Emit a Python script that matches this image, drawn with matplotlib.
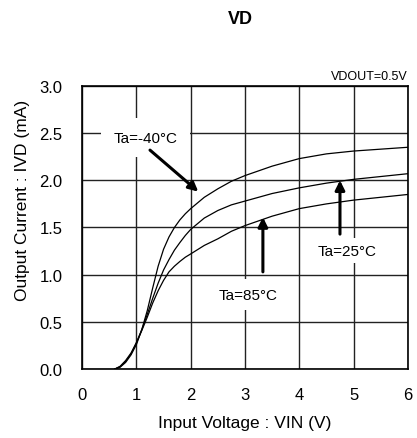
import matplotlib
matplotlib.use('Agg')
import matplotlib.pyplot as plt

plt.rcParams['font.family'] = ['Liberation Sans', 'DejaVu Sans']

# input voltage (V) and output current (mA) per temperature
vin = [0.6, 0.7, 0.8, 0.9, 1.0, 1.1, 1.2, 1.3, 1.4, 1.5, 1.6, 1.7, 1.8, 1.9, 2.0,
       2.25, 2.5, 2.75, 3.0, 3.5, 4.0, 4.5, 5.0, 5.5, 6.0]
i_m40 = [0, 0.02, 0.07, 0.15, 0.26, 0.42, 0.62, 0.86, 1.09, 1.27, 1.40, 1.50, 1.58, 1.645, 1.70,
         1.82, 1.91, 1.99, 2.05, 2.15, 2.23, 2.28, 2.31, 2.33, 2.35]
i_25 = [0, 0.025, 0.08, 0.16, 0.28, 0.42, 0.58, 0.75, 0.91, 1.05, 1.16, 1.26, 1.34, 1.415, 1.48,
        1.60, 1.68, 1.74, 1.78, 1.86, 1.92, 1.97, 2.01, 2.04, 2.07]
i_85 = [0, 0.03, 0.09, 0.17, 0.28, 0.41, 0.55, 0.70, 0.83, 0.94, 1.03, 1.09, 1.14, 1.185, 1.22,
        1.31, 1.38, 1.46, 1.52, 1.62, 1.70, 1.75, 1.79, 1.82, 1.85]

labels = ['Ta=-40\u00b0C', 'Ta=25\u00b0C', 'Ta=85\u00b0C']
xticks = [0, 1, 2, 3, 4, 5, 6]
yticks = [0.0, 0.5, 1.0, 1.5, 2.0, 2.5, 3.0]

fig = plt.figure(figsize=(4.17, 4.39), dpi=100)
ax = fig.add_axes([0.197, 0.157, 0.781, 0.645])

for ys in (i_m40, i_25, i_85):
    ax.plot(vin, ys, color='black', lw=0.9, zorder=3)

ax.set_xlim(0, 6)
ax.set_ylim(0, 3)
ax.set_xticks(xticks)
ax.set_yticks(yticks)
ax.set_yticklabels(['%.1f' % v for v in yticks])
ax.tick_params(length=0, labelsize=12)
ax.tick_params(axis='y', pad=14)
ax.tick_params(axis='x', pad=13)
ax.grid(True, color='#222222', lw=1.0)
ax.set_axisbelow(True)
for s in ax.spines.values():
    s.set_linewidth(1.2)

ax.set_xlabel('Input Voltage : VIN (V)', fontsize=12.5, labelpad=9)
ax.set_ylabel('Output Current : IVD (mA)', fontsize=12.5)
ax.yaxis.set_label_coords(-0.16, 0.60)

# temperature labels with white boxes
ax.text(1.17, 2.45, labels[0], fontsize=11, ha='center', va='center', zorder=4,
        bbox=dict(facecolor='white', edgecolor='none', pad=9))
ax.text(4.88, 1.255, labels[1], fontsize=11, ha='center', va='center', zorder=4,
        bbox=dict(facecolor='white', edgecolor='none', pad=4))
ax.text(3.06, 0.79, labels[2], fontsize=11, ha='center', va='center', zorder=4,
        bbox=dict(facecolor='white', edgecolor='none', pad=6))

arrow = dict(arrowstyle='-|>', color='black', lw=2.2, mutation_scale=14,
             shrinkA=0, shrinkB=0)
ax.annotate('', xy=(2.14, 1.88), xytext=(1.25, 2.32), arrowprops=arrow, zorder=5)
ax.annotate('', xy=(4.75, 2.0), xytext=(4.75, 1.43), arrowprops=arrow, zorder=5)
ax.annotate('', xy=(3.33, 1.61), xytext=(3.33, 1.03), arrowprops=arrow, zorder=5)

ax.text(1.0, 1.015, 'VDOUT=0.5V', transform=ax.transAxes, fontsize=9,
        ha='right', va='bottom')
fig.text(240 / 417, 1 - 20 / 439, 'VD', fontsize=13, fontweight='bold',
         ha='center', va='center')

fig.savefig('out.png', dpi=100)
